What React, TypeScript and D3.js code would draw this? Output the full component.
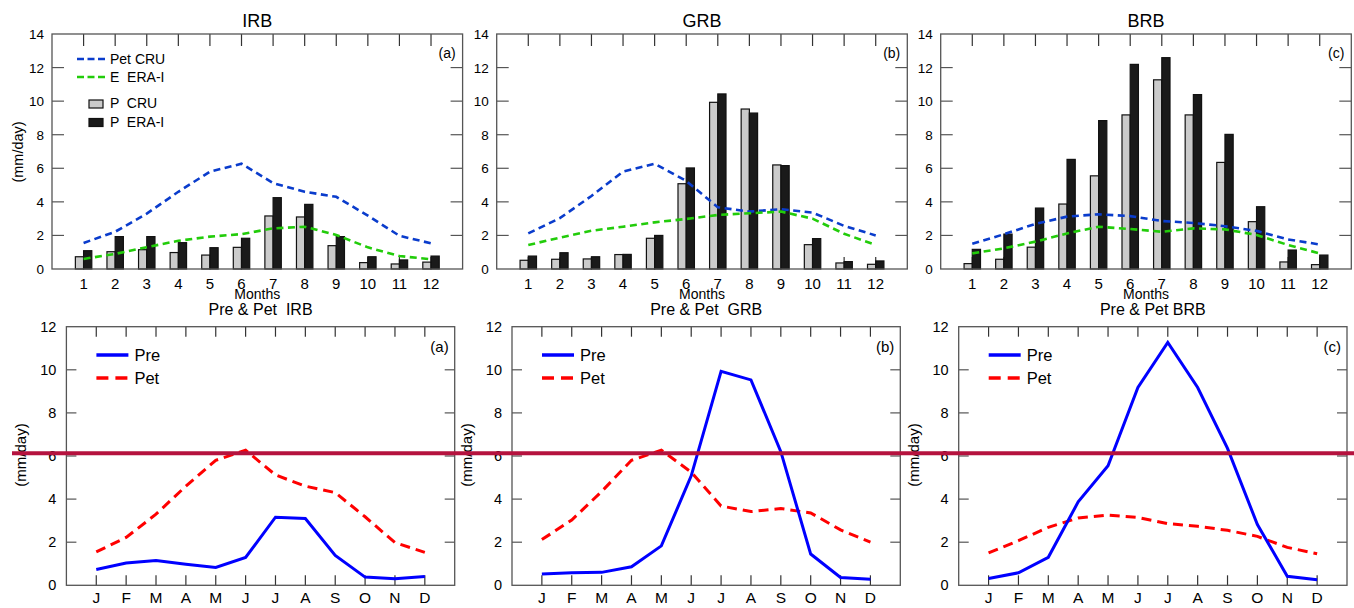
import React from "react";
import * as d3 from "d3";

const months = [1, 2, 3, 4, 5, 6, 7, 8, 9, 10, 11, 12];
const monthLetters = ["J", "F", "M", "A", "M", "J", "J", "A", "S", "O", "N", "D"];
const basins = ["IRB", "GRB", "BRB"];
const panelTags = ["(a)", "(b)", "(c)"];
const bottomTitles = ["Pre & Pet  IRB", "Pre & Pet  GRB", "Pre & Pet BRB"];

// P CRU (gray bars) = Pre
const pCRU_IRB = [0.73, 1.03, 1.15, 0.98, 0.83, 1.29, 3.16, 3.1, 1.39, 0.38, 0.3, 0.41];
const pCRU_GRB = [0.52, 0.58, 0.6, 0.86, 1.83, 5.08, 9.93, 9.53, 6.2, 1.45, 0.36, 0.28];
const pCRU_BRB = [0.32, 0.58, 1.3, 3.87, 5.55, 9.18, 11.27, 9.18, 6.35, 2.82, 0.42, 0.26];
// P ERA-I (black bars)
const pERA_IRB = [1.09, 1.93, 1.93, 1.57, 1.27, 1.83, 4.25, 3.85, 1.93, 0.73, 0.54, 0.77];
const pERA_GRB = [0.77, 0.97, 0.73, 0.87, 2.0, 6.02, 10.43, 9.29, 6.16, 1.81, 0.44, 0.48];
const pERA_BRB = [1.17, 2.08, 3.63, 6.53, 8.84, 12.19, 12.59, 10.39, 8.02, 3.71, 1.13, 0.83];
// Pet CRU (blue dashed / red dashed)
const pet_IRB = [1.55, 2.22, 3.3, 4.6, 5.8, 6.27, 5.12, 4.6, 4.3, 3.18, 1.98, 1.53];
const pet_GRB = [2.12, 3.03, 4.35, 5.8, 6.27, 5.25, 3.68, 3.42, 3.56, 3.36, 2.57, 2.0];
const pet_BRB = [1.5, 2.07, 2.69, 3.12, 3.26, 3.15, 2.86, 2.74, 2.55, 2.27, 1.76, 1.46];
// E ERA-I (green dashed)
const e_IRB = [0.6, 0.9, 1.3, 1.68, 1.93, 2.08, 2.42, 2.52, 2.03, 1.29, 0.77, 0.58];
const e_GRB = [1.43, 1.87, 2.28, 2.52, 2.78, 2.98, 3.22, 3.32, 3.42, 3.0, 2.1, 1.43];
const e_BRB = [0.93, 1.23, 1.63, 2.12, 2.52, 2.38, 2.22, 2.42, 2.36, 2.03, 1.43, 0.93];

const topYTicks = [0, 2, 4, 6, 8, 10, 12, 14];
const bottomYTicks = [0, 2, 4, 6, 8, 10, 12];
const thresholdValue = 6.13;

const pCRU = [pCRU_IRB, pCRU_GRB, pCRU_BRB];
const pERA = [pERA_IRB, pERA_GRB, pERA_BRB];
const pet = [pet_IRB, pet_GRB, pet_BRB];
const eERA = [e_IRB, e_GRB, e_BRB];

const FONT = "'Liberation Sans', Arial, Helvetica, sans-serif";
const FRAME = "#555";
const PRE: React.CSSProperties = { whiteSpace: "pre" };

const topX0 = [52, 496.7, 940.7];
const topW = 410.6;
const topTop = 34;
const topBottom = 269;
const botX0 = [66.4, 512, 958.7];
const botW = 388.3;
const botTop = 326.7;
const botBottom = 585.3;

function TopPanel({ i }: { i: number }) {
  const x = d3.scaleLinear().domain([0, 13]).range([topX0[i], topX0[i] + topW]);
  const y = d3.scaleLinear().domain([0, 14]).range([topBottom, topTop]);
  const step = x(1) - x(0);
  const bw = step * 0.26;
  const lineGen = d3
    .line<number>()
    .x((_, k) => x(months[k]))
    .y((d) => y(d));
  const cx = (x.range()[0] + x.range()[1]) / 2;
  return (
    <g>
      <text x={cx} y={27} textAnchor="middle" fontSize={18} fontFamily={FONT}>
        {basins[i]}
      </text>
      {months.map((m) => (
        <g key={"t" + m}>
          <line x1={x(m)} x2={x(m)} y1={topTop} y2={topTop + 12} stroke="#333" strokeWidth={1.2} />
          <line x1={x(m)} x2={x(m)} y1={topBottom} y2={topBottom - 12} stroke="#333" strokeWidth={1.2} />
          <text x={x(m)} y={topBottom + 20} textAnchor="middle" fontSize={15} fontFamily={FONT}>
            {m}
          </text>
        </g>
      ))}
      {topYTicks.map((t) => (
        <g key={"y" + t}>
          {t > 0 && t < 14 && (
            <>
              <line x1={x.range()[0]} x2={x.range()[0] + 12} y1={y(t)} y2={y(t)} stroke="#555" strokeWidth={1.2} />
              <line x1={x.range()[1]} x2={x.range()[1] - 12} y1={y(t)} y2={y(t)} stroke="#555" strokeWidth={1.2} />
            </>
          )}
          <text x={x.range()[0] - 8} y={y(t) + 5} textAnchor="end" fontSize={13.5} fontFamily={FONT}>
            {t}
          </text>
        </g>
      ))}
      {months.map((m, k) => (
        <g key={"b" + m}>
          <rect x={x(m) - bw} y={y(pCRU[i][k])} width={bw} height={y(0) - y(pCRU[i][k])} fill="#cbcbcb" stroke="#111" strokeWidth={1.2} />
          <rect x={x(m)} y={y(pERA[i][k])} width={bw} height={y(0) - y(pERA[i][k])} fill="#1a1a1a" stroke="#111" strokeWidth={1.2} />
        </g>
      ))}
      <path d={lineGen(pet[i]) || ""} fill="none" stroke="#0a3ccc" strokeWidth={2.6} strokeDasharray="7,4.5" />
      <path d={lineGen(eERA[i]) || ""} fill="none" stroke="#22cc0a" strokeWidth={2.6} strokeDasharray="7,4.5" />
      <rect x={x.range()[0]} y={topTop} width={topW} height={topBottom - topTop} fill="none" stroke={FRAME} strokeWidth={1.3} />
      <text x={x.range()[1] - 7} y={58} textAnchor="end" fontSize={14} fontFamily={FONT}>
        {panelTags[i]}
      </text>
      <text x={cx} y={299} textAnchor="middle" fontSize={14} fontFamily={FONT}>
        Months
      </text>
      {i === 0 && (
        <g>
          <text transform={`translate(23,152) rotate(-90)`} textAnchor="middle" fontSize={14.5} fontFamily={FONT}>
            (mm/day)
          </text>
          <line x1={77} x2={105} y1={59} y2={59} stroke="#0a3ccc" strokeWidth={2.6} strokeDasharray="7,3.5" />
          <text x={110} y={64} fontSize={14} fontFamily={FONT} style={PRE}>Pet CRU</text>
          <line x1={77} x2={105} y1={77} y2={77} stroke="#22cc0a" strokeWidth={2.6} strokeDasharray="7,3.5" />
          <text x={110} y={82} fontSize={14} fontFamily={FONT} style={PRE}>{"E  ERA-I"}</text>
          <rect x={89} y={100} width={14} height={8} fill="#cbcbcb" stroke="#111" strokeWidth={1.2} />
          <text x={110} y={108} fontSize={14} fontFamily={FONT} style={PRE}>{"P  CRU"}</text>
          <rect x={89} y={118.5} width={14} height={8} fill="#1a1a1a" stroke="#111" strokeWidth={1.2} />
          <text x={110} y={127} fontSize={14} fontFamily={FONT} style={PRE}>{"P  ERA-I"}</text>
        </g>
      )}
    </g>
  );
}

function BottomPanel({ i }: { i: number }) {
  const x = d3.scaleLinear().domain([0, 13]).range([botX0[i], botX0[i] + botW]);
  const y = d3.scaleLinear().domain([0, 12]).range([botBottom, botTop]);
  const lineGen = d3
    .line<number>()
    .x((_, k) => x(months[k]))
    .y((d) => y(d));
  const cx = (x.range()[0] + x.range()[1]) / 2;
  const x0 = x.range()[0];
  return (
    <g>
      <text x={cx} y={315} textAnchor="middle" fontSize={16} fontFamily={FONT} style={PRE}>
        {bottomTitles[i]}
      </text>
      {months.map((m, k) => (
        <g key={"t" + m}>
          <line x1={x(m)} x2={x(m)} y1={botTop} y2={botTop + 10} stroke="#333" strokeWidth={1.2} />
          <line x1={x(m)} x2={x(m)} y1={botBottom} y2={botBottom - 10} stroke="#333" strokeWidth={1.2} />
          <text x={x(m)} y={botBottom + 18} textAnchor="middle" fontSize={15.5} fontFamily={FONT}>
            {monthLetters[k]}
          </text>
        </g>
      ))}
      {bottomYTicks.map((t) => (
        <g key={"y" + t}>
          {t > 0 && t < 12 && (
            <>
              <line x1={x0} x2={x0 + 10} y1={y(t)} y2={y(t)} stroke="#555" strokeWidth={1.2} />
              <line x1={x.range()[1]} x2={x.range()[1] - 10} y1={y(t)} y2={y(t)} stroke="#555" strokeWidth={1.2} />
            </>
          )}
          <text x={x0 - 10} y={y(t) + 5} textAnchor="end" fontSize={14.5} fontFamily={FONT}>
            {t}
          </text>
        </g>
      ))}
      <path d={lineGen(pet[i]) || ""} fill="none" stroke="#ff0000" strokeWidth={3} strokeDasharray="10,6" />
      <path d={lineGen(pCRU[i]) || ""} fill="none" stroke="#0000ff" strokeWidth={3} />
      <rect x={x0} y={botTop} width={botW} height={botBottom - botTop} fill="none" stroke={FRAME} strokeWidth={1.3} />
      <text x={x.range()[1] - 6} y={352} textAnchor="end" fontSize={15} fontFamily={FONT}>
        {panelTags[i]}
      </text>
      <text transform={`translate(${x0 - 40},455) rotate(-90)`} textAnchor="middle" fontSize={15} fontFamily={FONT}>
        (mm/day)
      </text>
      <line x1={x0 + 30} x2={x0 + 62} y1={355} y2={355} stroke="#0000ff" strokeWidth={3.5} />
      <text x={x0 + 68} y={361} fontSize={16.5} fontFamily={FONT}>Pre</text>
      <line x1={x0 + 30} x2={x0 + 62} y1={378} y2={378} stroke="#ff0000" strokeWidth={3.5} strokeDasharray="12,7" />
      <text x={x0 + 68} y={384} fontSize={16.5} fontFamily={FONT}>Pet</text>
    </g>
  );
}

export default function App() {
  const yb = d3.scaleLinear().domain([0, 12]).range([botBottom, botTop]);
  return (
    <svg width={1354} height={608} style={{ position: "absolute", left: 0, top: 0, background: "#fff" }}>
      <rect x={0} y={0} width={1354} height={608} fill="#fff" />
      {[0, 1, 2].map((i) => (
        <TopPanel key={"top" + i} i={i} />
      ))}
      {[0, 1, 2].map((i) => (
        <BottomPanel key={"bot" + i} i={i} />
      ))}
      <line x1={12} x2={1354} y1={yb(thresholdValue)} y2={yb(thresholdValue)} stroke="#b5123e" strokeWidth={4} />
    </svg>
  );
}
